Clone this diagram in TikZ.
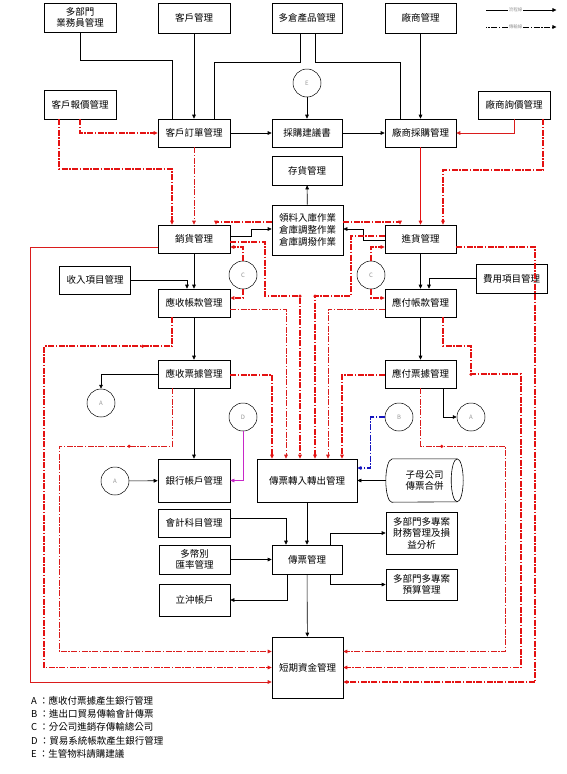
\documentclass[tikz,border=0pt]{standalone}
\usepackage{fontspec}
\setmainfont{Noto Sans CJK TC}
\usetikzlibrary{arrows.meta, calc}

\begin{document}
\begin{tikzpicture}[
    x=1pt, y=-1pt,
    >={Triangle[length=4pt, width=3.6pt]},
    font=\fontsize{9.5}{11.5}\selectfont,
    % Define colors
    /utils/exec={
        \definecolor{flowRed}{RGB}{228, 18, 18}
        \definecolor{flowDarkRed}{RGB}{218, 28, 28}
        \definecolor{flowMagenta}{RGB}{200, 40, 200}
        \definecolor{flowBlue}{RGB}{20, 20, 190}
        \definecolor{labelGrey}{RGB}{150, 150, 150}
    },
    % Node Styles
    box/.style={
        draw=black, line width=0.6pt,
        minimum width=71pt, minimum height=28pt,
        inner sep=1pt, align=center
    },
    jump/.style={
        draw=black, line width=0.5pt, circle, minimum size=28pt,
        inner sep=0pt, font=\fontsize{6}{6}\selectfont, text=labelGrey
    },
    tank/.style={
        minimum width=77pt, minimum height=43pt, inner sep=1pt, align=center
    },
    dot/.style={circle, fill=flowRed, minimum size=3.5pt, inner sep=0pt},
    plain/.style={line width=0.6pt},
    conn/.style={->, line width=0.6pt},
    trans/.style={->, flowRed, line width=1.7pt, dash pattern=on 6pt off 1.5pt on 1.5pt off 1.5pt},
    trans_thin/.style={->, flowDarkRed, line width=0.8pt, dash pattern=on 6pt off 1.5pt on 1.5pt off 1.5pt},
    red_conn/.style={->, flowDarkRed, line width=0.8pt}
]
\useasboundingbox (0,0) rectangle (566,774);

% =================================================================
% TOP: ORDERS AND PURCHASING
% =================================================================
\node[box, minimum width=72pt, minimum height=29pt] (salesRep) at (80,17.5) {多部門\\業務員管理};
\node[box, minimum width=72pt, minimum height=30pt] (custMgmt) at (194,18) {客戶管理};
\node[box, minimum width=70pt, minimum height=30pt] (prodMgmt) at (307,18) {多倉產品管理};
\node[box, minimum height=30pt] (vendMgmt) at (420.5,18) {廠商管理};

\node[box, minimum width=72pt, minimum height=29pt] (quoteMgmt) at (80,104.5) {客戶報價管理};
\node[box, minimum width=72pt] (inqMgmt) at (514,105) {廠商詢價管理};

\node[box, minimum width=72pt] (orderMgmt) at (194,133) {客戶訂單管理};
\node[box, minimum width=70pt] (purSugg) at (307,133) {採購建議書};
\node[box] (purMgmt) at (420.5,133) {廠商採購管理};
\node[box, minimum width=70pt, minimum height=29pt] (stockMgmt) at (307,170.5) {存貨管理};

\node[jump] (cE) at (307,83) {E};

% =================================================================
% MIDDLE: SALES / PURCHASE, RECEIVABLES / PAYABLES
% =================================================================
\node[box, minimum height=50pt, font=\fontsize{9.5}{12.3}\selectfont] (whOps) at (307.5,230) {領料入庫作業\\倉庫調整作業\\倉庫調撥作業};
\node[box, minimum width=72pt] (salesMgmt) at (194,239) {銷貨管理};
\node[box] (purchMgmt) at (420.5,239) {進貨管理};
\node[box] (incItem) at (95,280) {收入項目管理};
\node[box, minimum height=29pt] (expItem) at (511.5,278.5) {費用項目管理};
\node[box, minimum width=72pt] (arMgmt) at (194,303) {應收帳款管理};
\node[box] (apMgmt) at (420.5,303) {應付帳款管理};
\node[box, minimum width=72pt] (arNote) at (194,374) {應收票據管理};
\node[box] (apNote) at (420.5,374) {應付票據管理};

\node[jump] (cC1) at (243,275) {C};
\node[jump] (cC2) at (371,275) {C};
\node[jump] (cA1) at (101,403) {A};
\node[jump] (cD) at (243,417) {D};
\node[jump] (cB) at (399,417) {B};
\node[jump] (cA3) at (471,417) {A};

% =================================================================
% BOTTOM: VOUCHERS AND SHORT-TERM FUNDS
% =================================================================
\node[box, minimum width=72pt, minimum height=43pt] (bankMgmt) at (194,480.5) {銀行帳戶管理};
\node[box, minimum width=100pt, minimum height=43pt] (vouIO) at (307,480.5) {傳票轉入轉出管理};
\node[tank] (vouMerge) at (424.5,480.5) {子母公司\\傳票合併};
% cylinder outline round the merge node
\draw[line width=0.6pt] ([xshift=6pt]vouMerge.north west) -- ([xshift=-6pt]vouMerge.north east)
    arc[start angle=90, end angle=-90, x radius=6pt, y radius=21.5pt]
    -- ([xshift=6pt]vouMerge.south west)
    arc[start angle=270, end angle=90, x radius=6pt, y radius=21.5pt] -- cycle;
\draw[line width=0.6pt] ([xshift=-6pt]vouMerge.north east)
    arc[start angle=90, end angle=270, x radius=6pt, y radius=21.5pt];
\node[box, minimum width=72pt] (acctMgmt) at (194,523) {會計科目管理};
\node[box, minimum height=29pt] (fxMgmt) at (194.5,559.5) {多幣別\\匯率管理};
\node[box, minimum width=70pt, minimum height=29pt] (vouMgmt) at (307,559.5) {傳票管理};
\node[box, minimum height=32pt] (offsetAcct) at (194.5,600) {立沖帳戶};
\node[box, minimum height=42pt] (finAnal) at (421.5,533) {多部門多專案\\財務管理及損\\益分析};
\node[box, minimum height=31pt] (budgetMgmt) at (421.5,584.5) {多部門多專案\\預算管理};
\node[box, minimum height=61pt] (cashMgmt) at (307.5,667.5) {短期資金管理};

\node[jump] (cA2) at (115,481) {A};

% =================================================================
% CONNECTIONS
% =================================================================

% --- Flow lines ---
\draw[plain] (salesRep.south) -- ++(0,28) -| ([xshift=-22pt]orderMgmt.north);
\draw[conn] (custMgmt) -- (orderMgmt);
\draw[plain] ([xshift=-7pt]prodMgmt.south) -- ++(0,29) -| ([xshift=20pt]orderMgmt.north);
\draw[plain] ([xshift=8pt]prodMgmt.south) -- ++(0,29) -| ([xshift=-20.5pt]purMgmt.north);
\draw[conn] (vendMgmt) -- (purMgmt);
\draw[conn] (cE) -- (purSugg);
\draw[conn] (orderMgmt) -- (purSugg);
\draw[conn] (purSugg) -- (purMgmt);

\draw[conn] (whOps) -- (stockMgmt);
\draw[conn] ([yshift=3pt]salesMgmt.east) -- ++(21,0) |- ([yshift=1pt]whOps.west);
\draw[conn] ([yshift=-1pt]purchMgmt.west) -- ++(-21,0) |- ([yshift=1pt]whOps.east);
\draw[conn] (salesMgmt) -- (arMgmt);
\draw[conn] (incItem.east) -| ([xshift=-7pt]arMgmt.north);
\draw[conn] (purchMgmt) -- (apMgmt);
\draw[conn] (expItem.west) -| ([xshift=8.5pt]apMgmt.north);
\draw[conn] (arMgmt) -- (arNote);
\draw[conn] (apMgmt) -- (apNote);
\draw[conn] (arNote.west) -| (cA1.north);
\draw[conn] ([xshift=22.5pt]apNote.south) |- (cA3.west);

\draw[conn] (arNote) -- (bankMgmt);
\draw[conn] (cA2) -- (bankMgmt);
\draw[conn, flowMagenta] (cD.south) |- (bankMgmt.east);
\draw[trans, flowBlue, line width=1.2pt] (cB.west) -- ++(-14,0) |- ([yshift=12.5pt]vouIO.east);
\draw[conn] (vouMerge.west) -- (vouIO);
\draw[conn] ([yshift=5pt]acctMgmt.east) -| ([xshift=-21pt]vouMgmt.north);
\draw[conn] (fxMgmt) -- (vouMgmt);
\draw[conn] (vouIO) -- (vouMgmt);
\draw[conn] ([xshift=23pt]vouMgmt.north) |- (finAnal.west);
\draw[conn] ([xshift=23pt]vouMgmt.south) |- (budgetMgmt.west);
\draw[conn] ([xshift=-19.5pt]vouMgmt.south) |- (offsetAcct.east);
\draw[conn] (vouMgmt) -- (cashMgmt);

% --- Transfer lines (top) ---
\draw[trans] ([xshift=-21pt]quoteMgmt.south) -- ++(0,50) -| ([xshift=-22pt]salesMgmt.north);
\draw[trans] (quoteMgmt.south) |- (orderMgmt.west);
\draw[trans_thin] (orderMgmt) -- (salesMgmt);
\draw[red_conn] (inqMgmt.south) |- (purMgmt.east);
\draw[trans] ([xshift=29pt]inqMgmt.south) -- ++(0,51) -| ([xshift=22.5pt]purchMgmt.north);
\draw[->, flowRed, line width=1.7pt] (purMgmt) -- (purchMgmt);

\draw[trans] ([yshift=8pt]whOps.west) -| ([xshift=22pt]salesMgmt.north);
\draw[trans] ([yshift=8pt]whOps.east) -| ([xshift=-20.5pt]purchMgmt.north);
\draw[trans] (cC1.north) |- ([yshift=-8pt]salesMgmt.east);
\draw[trans] (cC1.south) |- ([yshift=5pt]arMgmt.east);
\draw[trans] (cC2.north) |- ([yshift=-8pt]purchMgmt.west);
\draw[trans] (cC2.south) |- ([yshift=5pt]apMgmt.west);

% --- Transfers into voucher import / export ---
\draw[trans] ([yshift=-3pt]salesMgmt.east) -- ++(35,0) -- ++(0,54) -| node[dot, pos=0.5] {} ([xshift=-7pt]vouIO.north);
\draw[trans] ([yshift=3pt]purchMgmt.west) -- ++(-34,0) -- ++(0,60) -| node[dot, pos=0.5] {} ([xshift=8pt]vouIO.north);
\draw[trans_thin] ([yshift=-6pt]arMgmt.east) -| ([xshift=-21pt]vouIO.north);
\draw[trans] ([yshift=-1pt]arNote.east) -| ([xshift=-35pt]vouIO.north);
\draw[trans_thin] ([yshift=-6pt]apMgmt.west) -| ([xshift=21pt]vouIO.north);
\draw[trans] ([yshift=-1pt]apNote.west) -| ([xshift=35pt]vouIO.north);

% --- Feeds into short-term funds ---
\draw[red_conn] ([yshift=-8pt]salesMgmt.west) -- ++(-127,0) |- ([yshift=-14.5pt]cashMgmt.west);
\draw[trans] ([xshift=-22pt]arMgmt.south) -- ++(0,29) -- node[dot, pos=0.23] {} ++(-128,0) |- (cashMgmt.west);
\draw[trans_thin] ([xshift=-22pt]arNote.south) -- ++(0,58) -- node[dot, pos=0.38] {} ++(-113,0) |- ([yshift=16pt]cashMgmt.west);
\draw[trans] ([yshift=-8pt]purchMgmt.east) -- ++(79,0) |- ([yshift=-14.5pt]cashMgmt.east);
\draw[trans] ([xshift=22.5pt]apMgmt.south) -- ++(0,29) -- ++(28,0) |- node[dot, pos=0.5] {} ++(50,28) |- (cashMgmt.east);
\draw[trans_thin] (apNote.south) -- ++(0,58) -- node[dot, pos=0.25] {} ++(85,0) |- ([yshift=16pt]cashMgmt.east);

% =================================================================
% LEGENDS
% =================================================================
\node[font=\fontsize{4.5}{5}\selectfont, text=labelGrey, inner sep=1pt] (legFlow) at (515.5,10) {流程線};
\draw[plain] (legFlow.west) -- ++(-22,0);
\draw[conn] (legFlow.east) -- ++(33,0);
\node[font=\fontsize{4.5}{5}\selectfont, text=labelGrey, inner sep=1pt] (legTrans) at (515.5,27) {傳輸線};
\draw[plain, dash pattern=on 6pt off 1.5pt on 1.5pt off 1.5pt] (legTrans.west) -- ++(-22,0);
\draw[conn, dash pattern=on 6pt off 1.5pt on 1.5pt off 1.5pt] (legTrans.east) -- ++(33,0);

\node[anchor=north west, align=left, inner sep=0pt, font=\fontsize{9.5}{13.3}\selectfont] (notes) at (31,696) {A ：應收付票據產生銀行管理\\B ：進出口貿易傳輸會計傳票\\C ：分公司進銷存傳輸總公司\\D ：貿易系統帳款產生銀行管理\\E ：生管物料請購建議};

\end{tikzpicture}
\end{document}
